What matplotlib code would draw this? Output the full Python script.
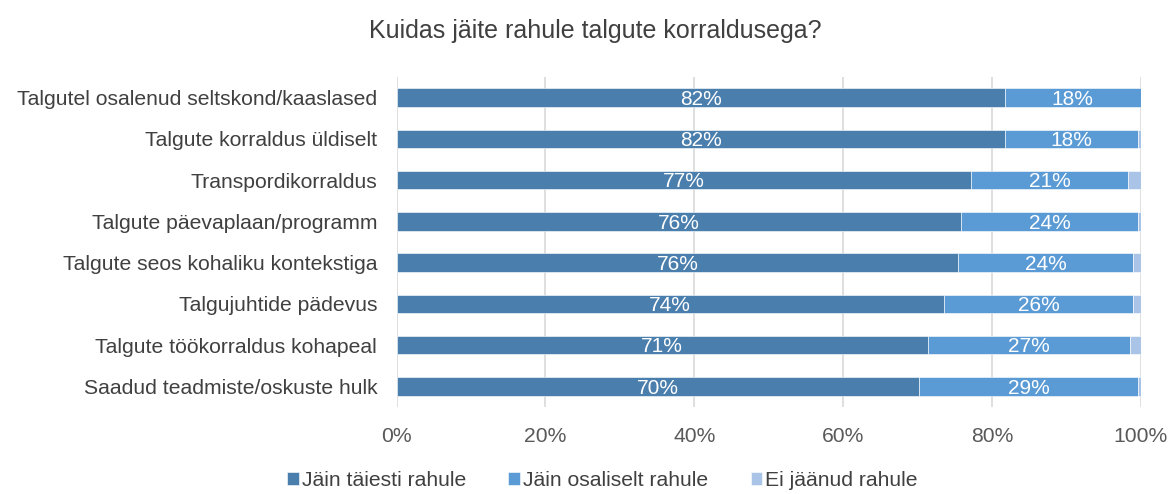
import numpy as np
import matplotlib.pyplot as plt

plt.rcParams['font.family'] = ['Liberation Sans', 'DejaVu Sans']

# data (share of respondents, %)
categories = [
    'Talgutel osalenud seltskond/kaaslased',
    'Talgute korraldus üldiselt',
    'Transpordikorraldus',
    'Talgute päevaplaan/programm',
    'Talgute seos kohaliku kontekstiga',
    'Talgujuhtide pädevus',
    'Talgute töökorraldus kohapeal',
    'Saadud teadmiste/oskuste hulk',
]
fully = [81.7, 81.7, 77.2, 75.9, 75.5, 73.5, 71.4, 70.2]
partly = [18.3, 17.9, 21.1, 23.7, 23.5, 25.5, 27.2, 29.4]
not_satisfied = [0.0, 0.4, 1.7, 0.4, 1.0, 1.0, 1.4, 0.4]
series_names = ['Jäin täiesti rahule', 'Jäin osaliselt rahule', 'Ei jäänud rahule']
colors = ['#4A7EAD', '#5B9BD5', '#A9C4E6']

fig = plt.figure(figsize=(11.7, 4.94), dpi=100)
ax = fig.add_axes([0.339, 0.176, 0.636, 0.668])

y = np.arange(len(categories))
left = np.zeros(len(categories))
for vals, name, col, show in zip([fully, partly, not_satisfied], series_names, colors,
                                  [True, True, False]):
    vals = np.array(vals)
    bars = ax.barh(y, vals, left=left, height=0.45, color=col, label=name,
                   edgecolor='white', linewidth=0.4, zorder=3)
    if show:
        for b, v in zip(bars, vals):
            ax.text(b.get_x() + b.get_width() / 2, b.get_y() + b.get_height() / 2 + 0.04,
                    f'{v:.0f}%', ha='center', va='center', color='white',
                    fontsize=15, zorder=4)
    left += vals

ax.set_ylim(len(categories) - 0.5, -0.5)
ax.set_xlim(0, 100)
ax.set_yticks(y)
ax.set_yticklabels(categories, fontsize=15.2, color='#404040')
ax.set_xticks(np.arange(0, 101, 20))
ax.set_xticklabels([f'{t}%' for t in range(0, 101, 20)], fontsize=15.2, color='#595959')
ax.tick_params(axis='both', length=0)
ax.tick_params(axis='x', pad=14)
ax.tick_params(axis='y', pad=14)
ax.grid(axis='x', color='#d9d9d9', linewidth=1.2, zorder=0)
for s in ax.spines.values():
    s.set_visible(False)

fig.suptitle('Kuidas jäite rahule talgute korraldusega?', fontsize=18,
             color='#404040', y=0.962, x=0.509)

fig.legend(loc='lower center', bbox_to_anchor=(0.515, -0.03), ncol=3, frameon=False,
           fontsize=15.2, handlelength=0.55, handleheight=0.55, handletextpad=0.15,
           columnspacing=2.0, labelcolor='#404040')

fig.savefig('out.png', dpi=100)
